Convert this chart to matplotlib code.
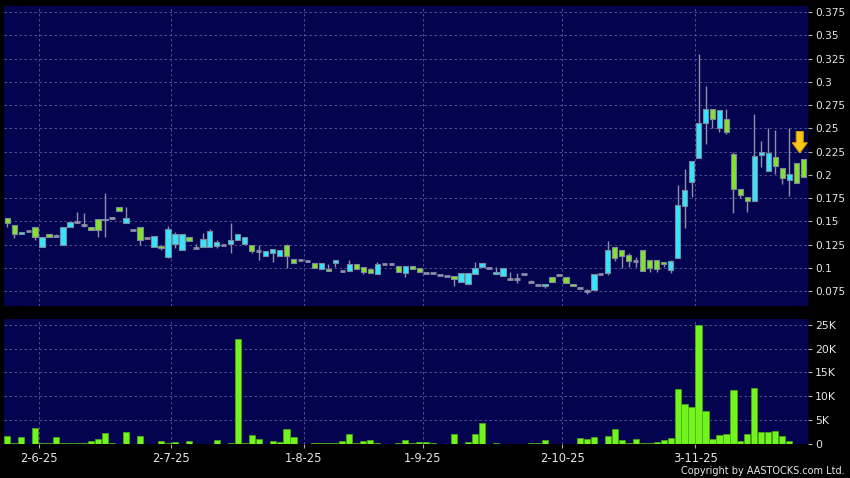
import matplotlib
matplotlib.use("Agg")
import matplotlib.pyplot as plt
import numpy as np
from matplotlib.patches import Polygon

# ---- data ----
opens = [0.154, 0.1456, 0.1358, 0.140, 0.1442, 0.1226, 0.1358, 0.134, 0.125, 0.1435,
         0.149, 0.1463, 0.1442, 0.1528, 0.151, 0.1535, 0.165, 0.1485, 0.1406, 0.1435,
         0.132, 0.1226, 0.123, 0.112, 0.126, 0.1195, 0.1334, 0.121, 0.1222, 0.1222,
         0.1236, 0.1248, 0.1255, 0.130, 0.1255, 0.125, 0.1183, 0.113, 0.116, 0.1123,
         0.125, 0.1094, 0.108, 0.107, 0.105, 0.099, 0.0987, 0.105, 0.0965, 0.0965,
         0.1044, 0.1004, 0.0983, 0.093, 0.1044, 0.1044, 0.102, 0.094, 0.102, 0.0994,
         0.094, 0.094, 0.092, 0.091, 0.0915, 0.0843, 0.0825, 0.093, 0.101, 0.0994,
         0.093, 0.0911, 0.0876, 0.088, 0.093, 0.085, 0.082, 0.0807, 0.0905, 0.0925,
         0.0905, 0.083, 0.0787, 0.0747, 0.0764, 0.0937, 0.094, 0.1228, 0.1196, 0.1134,
         0.1073, 0.1196, 0.108, 0.1087, 0.106, 0.098, 0.110, 0.166, 0.1926, 0.2177,
         0.2553, 0.2704, 0.250, 0.260, 0.222, 0.1844, 0.1757, 0.1714, 0.221, 0.204,
         0.2188, 0.2069, 0.1944, 0.2123, 0.2166]
highs = [0.154, 0.1456, 0.138, 0.140, 0.1442, 0.1334, 0.1358, 0.1363, 0.1442, 0.1495,
         0.1596, 0.1585, 0.1442, 0.1528, 0.180, 0.155, 0.165, 0.1657, 0.1406, 0.1435,
         0.132, 0.1345, 0.124, 0.1446, 0.1388, 0.1366, 0.1334, 0.126, 0.137, 0.1417,
         0.1296, 0.1248, 0.148, 0.136, 0.1328, 0.125, 0.125, 0.118, 0.120, 0.1194,
         0.1256, 0.1094, 0.108, 0.107, 0.105, 0.105, 0.104, 0.108, 0.0965, 0.1083,
         0.1044, 0.1004, 0.0983, 0.1065, 0.1044, 0.1044, 0.102, 0.102, 0.102, 0.0994,
         0.094, 0.094, 0.092, 0.091, 0.0915, 0.0947, 0.0947, 0.106, 0.1047, 0.0994,
         0.1004, 0.0994, 0.0958, 0.0947, 0.093, 0.087, 0.082, 0.0825, 0.0905, 0.0925,
         0.0905, 0.083, 0.0787, 0.077, 0.0933, 0.0937, 0.1288, 0.1228, 0.1196, 0.1156,
         0.112, 0.1196, 0.108, 0.1087, 0.106, 0.108, 0.189, 0.206, 0.2148, 0.330,
         0.296, 0.2704, 0.270, 0.271, 0.224, 0.1844, 0.1757, 0.265, 0.236, 0.2506,
         0.248, 0.2069, 0.250, 0.2123, 0.2166]
lows = [0.1435, 0.1317, 0.1358, 0.140, 0.130, 0.122, 0.1328, 0.1334, 0.125, 0.1435,
        0.149, 0.1435, 0.1406, 0.1334, 0.1334, 0.1528, 0.1607, 0.1485, 0.1406, 0.125,
        0.132, 0.1226, 0.119, 0.111, 0.1212, 0.1195, 0.1288, 0.121, 0.1222, 0.1222,
        0.121, 0.1248, 0.1155, 0.130, 0.1255, 0.1156, 0.108, 0.113, 0.106, 0.1123,
        0.0997, 0.1048, 0.108, 0.107, 0.0995, 0.099, 0.0965, 0.101, 0.0965, 0.0965,
        0.0987, 0.093, 0.094, 0.093, 0.1044, 0.1044, 0.095, 0.0905, 0.099, 0.0958,
        0.094, 0.094, 0.092, 0.091, 0.080, 0.0843, 0.0825, 0.093, 0.101, 0.0994,
        0.093, 0.0911, 0.0876, 0.0833, 0.093, 0.0833, 0.082, 0.0779, 0.085, 0.0925,
        0.0834, 0.080, 0.0787, 0.072, 0.0764, 0.0937, 0.092, 0.1076, 0.100, 0.1005,
        0.101, 0.0962, 0.0958, 0.0958, 0.101, 0.0947, 0.110, 0.143, 0.176, 0.2177,
        0.233, 0.250, 0.2457, 0.2435, 0.159, 0.175, 0.160, 0.1714, 0.208, 0.204,
        0.2004, 0.190, 0.177, 0.1908, 0.1979]
closes = [0.148, 0.1363, 0.138, 0.140, 0.1334, 0.1334, 0.1328, 0.134, 0.1442, 0.1495,
          0.149, 0.1463, 0.1406, 0.1406, 0.1528, 0.1535, 0.1607, 0.154, 0.1406, 0.1295,
          0.132, 0.1345, 0.121, 0.142, 0.136, 0.1366, 0.129, 0.121, 0.131, 0.1393,
          0.1277, 0.1248, 0.1295, 0.136, 0.1328, 0.1183, 0.1183, 0.118, 0.120, 0.1194,
          0.113, 0.1048, 0.108, 0.107, 0.0995, 0.105, 0.0965, 0.108, 0.0965, 0.1044,
          0.0987, 0.0951, 0.094, 0.1044, 0.1044, 0.1044, 0.095, 0.102, 0.099, 0.0958,
          0.094, 0.094, 0.092, 0.091, 0.0876, 0.0947, 0.0947, 0.100, 0.1047, 0.0994,
          0.095, 0.0994, 0.0876, 0.088, 0.093, 0.085, 0.082, 0.0825, 0.085, 0.0925,
          0.0834, 0.080, 0.0787, 0.0747, 0.0933, 0.0937, 0.1196, 0.110, 0.1124, 0.1076,
          0.1073, 0.0962, 0.0994, 0.0983, 0.1037, 0.107, 0.168, 0.1836, 0.2148, 0.2553,
          0.2704, 0.260, 0.270, 0.2457, 0.1844, 0.178, 0.1714, 0.2205, 0.224, 0.223,
          0.2097, 0.1961, 0.2005, 0.1908, 0.1979]
volumes_k = [1.6, 0.2, 1.3, 0.0, 3.3, 0.2, 0.2, 1.4, 0.2, 0.2,
             0.05, 0.05, 0.5, 1.0, 2.2, 0.1, 0.0, 2.4, 0.0, 1.6,
             0.0, 0.0, 0.5, 0.1, 0.3, 0.0, 0.5, 0.0, 0.0, 0.0,
             0.8, 0.0, 0.1, 22.1, 0.1, 1.8, 0.9, 0.0, 0.6, 0.4,
             3.0, 1.3, 0.0, 0.0, 0.1, 0.1, 0.2, 0.2, 0.5, 2.0,
             0.2, 0.5, 0.7, 0.2, 0.0, 0.0, 0.2, 0.8, 0.2, 0.3,
             0.3, 0.1, 0.0, 0.0, 1.9, 0.0, 0.3, 2.1, 4.3, 0.0,
             0.2, 0.0, 0.0, 0.0, 0.0, 0.1, 0.1, 0.8, 0.0, 0.0,
             0.0, 0.0, 1.2, 1.0, 1.4, 0.0, 1.5, 3.1, 0.7, 0.1,
             1.0, 0.2, 0.2, 0.3, 0.7, 1.1, 11.5, 8.3, 7.7, 25.0,
             6.8, 0.9, 1.7, 2.1, 11.2, 0.5, 1.9, 11.7, 2.5, 2.5,
             2.7, 1.6, 0.6, 0.0, 0.0]
date_labels = ["2-6-25", "2-7-25", "1-8-25", "1-9-25", "2-10-25", "3-11-25"]
date_pos = [4.5, 23.5, 42.5, 59.5, 79.5, 98.5]
price_ticks = [0.075, 0.1, 0.125, 0.15, 0.175, 0.2, 0.225, 0.25, 0.275, 0.3, 0.325, 0.35, 0.375]
price_tick_labels = ["0.075", "0.1", "0.125", "0.15", "0.175", "0.2", "0.225", "0.25",
                     "0.275", "0.3", "0.325", "0.35", "0.375"]
vol_ticks = [0, 5, 10, 15, 20, 25]
vol_tick_labels = ["0", "5K", "10K", "15K", "20K", "25K"]

# ---- style ----
BG = "#000000"
PANEL = "#03034f"
GRID = "#5c5c96"
UP = "#33e5ff"
DOWN = "#84e22c"
EDGE = "#7d8a9c"
WICK = "#8e8ea6"
VOLC = "#72f51e"
TXT = "#e6e6e6"

fig = plt.figure(figsize=(8.5, 4.78), dpi=100, facecolor=BG)
W, H = 850.0, 478.0
ax = fig.add_axes([4 / W, (H - 306) / H, 804 / W, 300 / H], facecolor=PANEL)
axv = fig.add_axes([4 / W, (H - 443.5) / H, 804 / W, 124.5 / H], facecolor=PANEL)

n = len(opens)
x = np.arange(n)
o = np.array(opens); h = np.array(highs); l = np.array(lows); c = np.array(closes)

# wicks
ax.vlines(x, l, h, color=WICK, linewidth=1.0, zorder=2)
bw = 0.78
for i in range(n):
    if abs(c[i] - o[i]) < 1e-9:
        ax.hlines(o[i], i - bw / 2, i + bw / 2, color=WICK, linewidth=2.0, zorder=3)
    else:
        col = UP if c[i] > o[i] else DOWN
        ax.bar(i, abs(c[i] - o[i]), bottom=min(o[i], c[i]), width=bw,
               color=col, edgecolor=EDGE, linewidth=0.8, zorder=3)

xlim = (-0.47, 114.68)
ax.set_xlim(*xlim)
ax.set_ylim(0.0589, 0.3815)
ax.set_yticks(price_ticks)
ax.set_yticklabels(price_tick_labels)
ax.set_xticks(date_pos)
ax.tick_params(axis="x", length=0, labelbottom=False)
ax.yaxis.tick_right()
ax.tick_params(axis="y", colors="#b0b0b0", labelcolor=TXT, length=3, width=0.8,
               labelsize=7.6, pad=2)
ax.grid(True, color=GRID, linestyle=(0, (3, 3)), linewidth=0.6, zorder=0)
ax.set_axisbelow(True)
for s in ax.spines.values():
    s.set_visible(False)

# arrow marker above the last candle
cx = n - 1 - 0.5
top, neck, tip = 0.2465, 0.2345, 0.2235
sw, hw = 0.5, 1.08
poly = [(cx - sw, top), (cx + sw, top), (cx + sw, neck), (cx + hw, neck),
        (cx, tip), (cx - hw, neck), (cx - sw, neck)]
ax.add_patch(Polygon(poly, closed=True, facecolor="#f8c81a", edgecolor="#d89a00",
                     linewidth=0.8, zorder=5))

# volume
v = np.array(volumes_k)
axv.bar(x, v, width=0.88, color=VOLC, edgecolor="#4fae10", linewidth=0.5, zorder=3)
axv.set_xlim(*xlim)
axv.set_ylim(0, 26.26)
axv.set_yticks(vol_ticks)
axv.set_yticklabels(vol_tick_labels)
axv.yaxis.tick_right()
axv.tick_params(axis="y", colors="#b0b0b0", labelcolor=TXT, length=3, width=0.8,
                labelsize=7.8, pad=2)
axv.set_xticks(date_pos)
axv.set_xticklabels(date_labels)
axv.tick_params(axis="x", colors="#b0b0b0", labelcolor=TXT, length=3, width=0.8,
                labelsize=8.3, pad=3)
axv.grid(True, color=GRID, linestyle=(0, (3, 3)), linewidth=0.6, zorder=0)
axv.set_axisbelow(True)
for s in axv.spines.values():
    s.set_visible(False)

fig.text(845 / W, 1 - 471 / H, "Copyright by AASTOCKS.com Ltd.", color=TXT,
         fontsize=7.0, ha="right", va="center")

fig.savefig("out.png", dpi=100, facecolor=BG)
